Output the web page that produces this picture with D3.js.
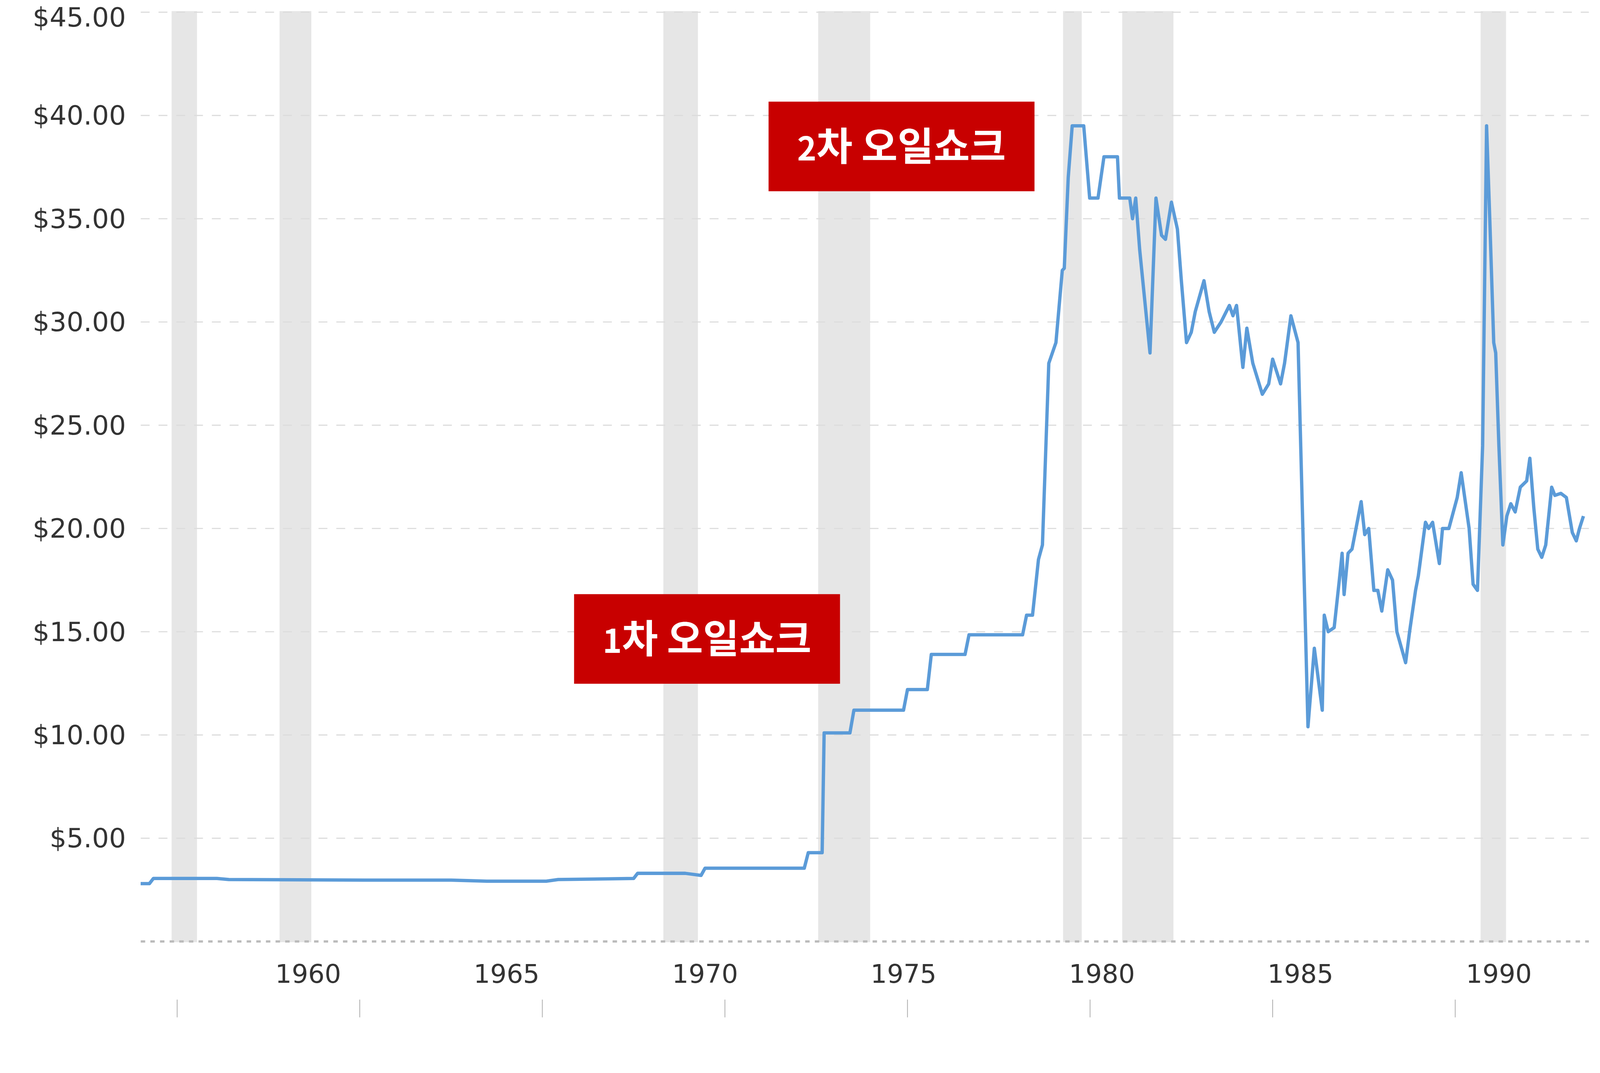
<!DOCTYPE html>
<html>
<head>
<meta charset="utf-8">
<script src="https://cdn.jsdelivr.net/npm/d3@7"></script>
<style>
  html, body { margin: 0; height: 100%; overflow: hidden; background: #fff; }
  svg { display: block; width: 100%; height: 100%; font-family: "DejaVu Sans", Verdana, sans-serif; }
</style>
</head>
<body>
<svg id="chart" viewBox="0 0 4320 2748" preserveAspectRatio="xMinYMin meet"></svg>
<script>
// price series (year as decimal, $ per barrel)
var years = [1955.78, 1956.0, 1956.1, 1957.7, 1958.0, 1961.4, 1963.6, 1964.5, 1966.0, 1966.3, 1968.2, 1968.3, 1969.5, 1969.9, 1970.0,
  1972.5, 1972.6, 1972.95, 1973.0, 1973.65, 1973.75, 1975.0, 1975.1, 1975.6, 1975.7, 1976.55, 1976.65, 1978.0, 1978.1, 1978.25,
  1978.4, 1978.5, 1978.66, 1978.84, 1979.0, 1979.05, 1979.15, 1979.25, 1979.54, 1979.69, 1979.9, 1980.05, 1980.39, 1980.44, 1980.7,
  1980.77, 1980.85, 1980.95, 1981.21, 1981.36, 1981.5, 1981.6, 1981.75, 1981.9, 1982.0, 1982.13, 1982.25, 1982.35, 1982.57, 1982.7,
  1982.83, 1983.0, 1983.21, 1983.3, 1983.39, 1983.55, 1983.65, 1983.8, 1984.04, 1984.2, 1984.3, 1984.5, 1984.6, 1984.76, 1984.94,
  1985.19, 1985.35, 1985.55, 1985.6, 1985.7, 1985.85, 1985.98, 1986.05, 1986.1, 1986.2, 1986.3, 1986.4, 1986.53, 1986.62, 1986.72,
  1986.85, 1986.95, 1987.05, 1987.2, 1987.32, 1987.43, 1987.65, 1987.75, 1987.9, 1987.97, 1988.15, 1988.23, 1988.33, 1988.5, 1988.58,
  1988.74, 1988.95, 1989.05, 1989.25, 1989.35, 1989.46, 1989.59, 1989.69, 1989.77, 1989.87, 1989.92, 1990.0, 1990.1, 1990.2, 1990.3,
  1990.41, 1990.54, 1990.7, 1990.78, 1990.88, 1990.98, 1991.08, 1991.18, 1991.33, 1991.41, 1991.56, 1991.7, 1991.85, 1991.95, 1992.03, 1992.13];
var prices = [2.8, 2.8, 3.05, 3.05, 3.0, 2.97, 2.97, 2.92, 2.92, 3.0, 3.05, 3.3, 3.3, 3.2, 3.55,
  3.55, 4.3, 4.3, 10.1, 10.1, 11.2, 11.2, 12.2, 12.2, 13.9, 13.9, 14.85, 14.85, 15.8, 15.8,
  18.5, 19.2, 28.0, 29.0, 32.5, 32.6, 37.0, 39.5, 39.5, 36.0, 36.0, 38.0, 38.0, 36.0, 36.0,
  35.0, 36.0, 33.5, 28.5, 36.0, 34.2, 34.0, 35.8, 34.5, 32.0, 29.0, 29.5, 30.5, 32.0, 30.5,
  29.5, 30.0, 30.8, 30.3, 30.8, 27.8, 29.7, 28.0, 26.5, 27.0, 28.2, 27.0, 28.0, 30.3, 29.0,
  10.4, 14.2, 11.2, 15.8, 15.0, 15.2, 17.5, 18.8, 16.8, 18.8, 19.0, 20.0, 21.3, 19.7, 20.0,
  17.0, 17.0, 16.0, 18.0, 17.5, 15.0, 13.5, 15.0, 17.0, 17.7, 20.3, 20.0, 20.3, 18.3, 20.0,
  20.0, 21.5, 22.7, 20.0, 17.3, 17.0, 24.0, 39.5, 35.0, 29.0, 28.5, 24.0, 19.2, 20.6, 21.2,
  20.8, 22.0, 22.3, 23.4, 21.0, 19.0, 18.6, 19.2, 22.0, 21.6, 21.7, 21.5, 19.8, 19.4, 20.0, 20.6];
var recessionStart = [1956.56, 1959.28, 1968.95, 1972.85, 1979.02, 1980.51, 1989.54];
var recessionEnd   = [1957.2, 1960.08, 1969.82, 1974.16, 1979.49, 1981.8, 1990.18];
var yTicks = [5, 10, 15, 20, 25, 30, 35, 40, 45];
var xTicks = [1960, 1965, 1970, 1975, 1980, 1985, 1990];
var minorTicks = [1956.7, 1961.3, 1965.9, 1970.5, 1975.1, 1979.7, 1984.3, 1988.9];
var notes = [
  {num: "2", text: "차 오일쇼크", x0: 1971.6, x1: 1978.3, y: 38.5},
  {num: "1", text: "차 오일쇼크", x0: 1966.7, x1: 1973.4, y: 14.65}
];

var svg = d3.select("#chart");
var x = d3.scaleLinear().domain([1960, 1990]).range([832, 4047]);
var y = d3.scaleLinear().domain([0, 45]).range([2543, 33]);
var left = 380, right = 4290;

svg.append("g").selectAll("rect").data(recessionStart).join("rect")
  .attr("x", function(d){ return x(d); })
  .attr("width", function(d, i){ return x(recessionEnd[i]) - x(d); })
  .attr("y", 30).attr("height", 2515)
  .attr("fill", "#e6e6e6");

svg.append("g").selectAll("line").data(yTicks).join("line")
  .attr("x1", left).attr("x2", right)
  .attr("y1", function(d){ return y(d); }).attr("y2", function(d){ return y(d); })
  .attr("stroke", "#dcdcdc").attr("stroke-width", 3).attr("stroke-dasharray", "24,24");

svg.append("line").attr("x1", left).attr("x2", right).attr("y1", y(0)).attr("y2", y(0))
  .attr("stroke", "#bbb").attr("stroke-width", 6).attr("stroke-dasharray", "12,14");

// top label nudged down so it is not clipped by the edge
svg.append("g").selectAll("text").data(yTicks).join("text")
  .attr("x", 340).attr("y", function(d){ return Math.max(y(d) + 25, 72); })
  .attr("text-anchor", "end").attr("font-size", 72).attr("fill", "#333")
  .text(function(d){ return d3.format("$.2f")(d); });

svg.append("g").selectAll("text").data(xTicks).join("text")
  .attr("x", function(d){ return x(d); }).attr("y", 2655)
  .attr("text-anchor", "middle").attr("font-size", 70).attr("fill", "#333")
  .text(function(d){ return d; });

svg.append("g").selectAll("line").data(minorTicks).join("line")
  .attr("x1", function(d){ return x(d); }).attr("x2", function(d){ return x(d); })
  .attr("y1", 2700).attr("y2", 2748).attr("stroke", "#aaa").attr("stroke-width", 2);

var line = d3.line()
  .x(function(d, i){ return x(years[i]); })
  .y(function(d){ return y(d); });
svg.append("path").attr("d", line(prices))
  .attr("fill", "none").attr("stroke", "#5b9bd8").attr("stroke-width", 9)
  .attr("stroke-linejoin", "round");

var g = svg.append("g").selectAll("g").data(notes).join("g");
g.append("rect")
  .attr("x", function(d){ return x(d.x0); })
  .attr("width", function(d){ return x(d.x1) - x(d.x0); })
  .attr("y", function(d){ return y(d.y) - 121; }).attr("height", 242)
  .attr("fill", "#c80000");
var t = g.append("text")
  .attr("x", function(d){ return (x(d.x0) + x(d.x1)) / 2; })
  .attr("y", function(d){ return y(d.y) + 38; })
  .attr("text-anchor", "middle").attr("fill", "#fff")
  .attr("font-family", "'Noto Sans CJK KR', sans-serif").attr("font-weight", "bold").attr("font-size", 106);
t.append("tspan").attr("font-size", 88).text(function(d){ return d.num; });
t.append("tspan").text(function(d){ return d.text; });
</script>
</body>
</html>
